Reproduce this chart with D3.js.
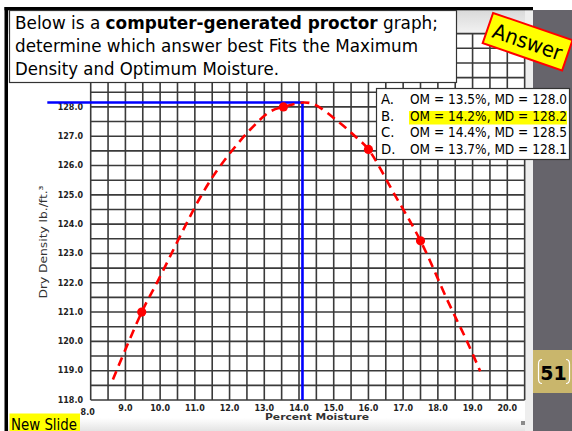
<!DOCTYPE html>
<html><head><meta charset="utf-8">
<script src="https://cdn.jsdelivr.net/npm/d3@7"></script>
<style>html,body{margin:0;padding:0;background:#fff;}svg{display:block;}</style>
</head><body>
<svg id="c" width="572" height="431"></svg>
<script>
// ---- data ----
const xTickValues = [8, 9, 10, 11, 12, 13, 14, 15, 16, 17, 18, 19, 20];
const xTickLabels = ["8.0","9.0","10.0","11.0","12.0","13.0","14.0","15.0","16.0","17.0","18.0","19.0","20.0"];
const yTickValues = [118, 119, 120, 121, 122, 123, 124, 125, 126, 127, 128];
const yTickLabels = ["118.0","119.0","120.0","121.0","122.0","123.0","124.0","125.0","126.0","127.0","128.0"];
const curveOM = [8.64, 9.47, 9.95, 11.15, 11.73, 12.59, 13.17, 13.55, 14.15, 14.45, 15.18, 15.67, 16.0, 16.72, 17.5, 18.3, 18.84, 19.22];
const curveMD = [118.7, 121.0, 122.1, 124.9, 125.98, 127.22, 127.84, 128.0, 128.15, 128.08, 127.45, 126.94, 126.55, 125.08, 123.43, 121.34, 120.0, 118.98];
const pointOM = [9.47, 13.55, 16.0, 17.5];
const pointMD = [121.0, 128.0, 126.55, 123.43];
const maxOM = 14.1, maxMD = 128.15, blueStartOM = 6.75;
const gridOMStart = 8, gridOMEnd = 20.5, gridMDStart = 118, gridMDEnd = 130.5, gridStep = 0.5;
const answerLetters = ["A.", "B.", "C.", "D."];
const answerTexts = ["OM = 13.5%, MD = 128.0", "OM = 14.2%, MD = 128.2", "OM = 14.4%, MD = 128.5", "OM = 13.7%, MD = 128.1"];
const correctIndex = 1;
const questionLines = [
  [["Below is a ", false], ["computer-generated proctor", true], [" graph;", false]],
  [["determine which answer best Fits the Maximum", false]],
  [["Density and Optimum Moisture.", false]]
];
const questionWidths = [423, 403, 264];
const slideNumber = "51";

// ---- drawing ----
const svg = d3.select("#c");
const F = "DejaVu Sans, Verdana, sans-serif";
const x = d3.scaleLinear().domain([8, 20]).range([90.7, 507.3]);
const y = d3.scaleLinear().domain([118, 128]).range([400, 106.9]);

svg.append("rect").attr("width", 572).attr("height", 431).attr("fill", "#fff");

const defs = svg.append("defs");
const g1 = defs.append("linearGradient").attr("id", "topg").attr("x1", 0).attr("y1", 0).attr("x2", 0).attr("y2", 1);
g1.append("stop").attr("offset", 0).attr("stop-color", "#d9d9d9");
g1.append("stop").attr("offset", 1).attr("stop-color", "#f3f3f3");
const g2 = defs.append("linearGradient").attr("id", "botg").attr("x1", 0).attr("y1", 0).attr("x2", 0).attr("y2", 1);
g2.append("stop").attr("offset", 0).attr("stop-color", "#ffffff");
g2.append("stop").attr("offset", 1).attr("stop-color", "#e4e4e4");

// chart background pieces
svg.append("rect").attr("x", 8).attr("y", 10).attr("width", 525).attr("height", 24).attr("fill", "url(#topg)");
svg.append("rect").attr("x", 525).attr("y", 10).attr("width", 8).attr("height", 421).attr("fill", "#eeeeee");
svg.append("rect").attr("x", 8).attr("y", 418).attr("width", 517).attr("height", 13).attr("fill", "url(#botg)");

// right dark panel
svg.append("rect").attr("x", 533).attr("y", 10).attr("width", 39).attr("height", 421).attr("fill", "#66646b");
svg.append("rect").attr("x", 533).attr("y", 350).attr("width", 39).attr("height", 43).attr("fill", "#c9b66c");

// frame
svg.append("rect").attr("x", 4.5).attr("y", 7).attr("width", 3.5).attr("height", 424).attr("fill", "#000");
svg.append("rect").attr("x", 4.5).attr("y", 7).attr("width", 528.5).attr("height", 3.3).attr("fill", "#000");

// grid
const vLines = d3.range(gridOMStart, gridOMEnd + 0.001, gridStep);
const hLines = d3.range(gridMDStart, gridMDEnd + 0.001, gridStep);
const grid = svg.append("g").attr("stroke", "#3a3a3a").attr("stroke-width", 1.6);
grid.selectAll("line.v").data(vLines).join("line").attr("class", "v")
  .attr("x1", d => x(d)).attr("x2", d => x(d)).attr("y1", y(gridMDEnd)).attr("y2", y(gridMDStart));
grid.selectAll("line.h").data(hLines).join("line").attr("class", "h")
  .attr("x1", x(gridOMStart)).attr("x2", x(gridOMEnd)).attr("y1", d => y(d)).attr("y2", d => y(d));

// tick labels
svg.append("g").selectAll("text").data(yTickValues).join("text")
  .attr("x", 83).attr("y", d => y(d)).attr("dy", "0.35em").attr("text-anchor", "end")
  .attr("font-family", F).attr("font-weight", "bold").attr("font-size", 8).attr("fill", "#222")
  .text((d, i) => yTickLabels[i]);
svg.append("g").selectAll("text").data(xTickValues).join("text")
  .attr("x", (d, i) => i === 0 ? x(d) - 3 : x(d)).attr("y", (d, i) => i === 0 ? 415 : 411)
  .attr("text-anchor", "middle")
  .attr("font-family", F).attr("font-weight", "bold").attr("font-size", 8).attr("fill", "#222")
  .text((d, i) => xTickLabels[i]);

// axis titles
svg.append("text").attr("x", 317).attr("y", 420).attr("text-anchor", "middle")
  .attr("font-family", F).attr("font-weight", "bold").attr("font-size", 9.5).attr("fill", "#333")
  .attr("textLength", 104).attr("lengthAdjust", "spacingAndGlyphs").text("Percent Moisture");
svg.append("text").attr("transform", "translate(47,242) rotate(-90)").attr("text-anchor", "middle")
  .attr("font-family", F).attr("font-size", 10).attr("fill", "#333")
  .attr("textLength", 113).attr("lengthAdjust", "spacingAndGlyphs").text("Dry Density lb./ft.³");

// blue max lines
svg.append("path").attr("fill", "none").attr("stroke", "#0000ff").attr("stroke-width", 2.6)
  .attr("d", `M${x(blueStartOM)},${y(maxMD)}H${x(maxOM)}V${y(gridMDStart)}`);

// curve
const pts = curveOM.map((d, i) => [d, curveMD[i]]);
svg.append("path").datum(pts).attr("fill", "none").attr("stroke", "#ff0000").attr("stroke-width", 2.6)
  .attr("stroke-dasharray", "9,6")
  .attr("d", d3.line().x(d => x(d[0])).y(d => y(d[1])).curve(d3.curveCatmullRom.alpha(0.5)));
svg.append("g").selectAll("circle").data(pointOM).join("circle")
  .attr("cx", d => x(d)).attr("cy", (d, i) => y(pointMD[i])).attr("r", 4.6).attr("fill", "#ff0000");

// question box
svg.append("rect").attr("x", 9.5).attr("y", 10.5).attr("width", 447).attr("height", 72)
  .attr("fill", "#fff").attr("stroke", "#333").attr("stroke-width", 1.2);
const baseY = [29, 52, 75];
questionLines.forEach((line, li) => {
  const t = svg.append("text").attr("x", 15).attr("y", baseY[li]).attr("font-family", F).attr("font-size", 17)
    .attr("fill", "#000").attr("textLength", questionWidths[li]).attr("lengthAdjust", "spacingAndGlyphs");
  line.forEach(([s, b]) => t.append("tspan").attr("font-weight", b ? "bold" : "normal").text(s));
});

// options box
svg.append("rect").attr("x", 376.5).attr("y", 88.5).attr("width", 193).attr("height", 71)
  .attr("fill", "#fff").attr("stroke", "#333").attr("stroke-width", 1.2);
const optY = [104, 120.5, 137, 153.5];
svg.append("rect").attr("x", 409).attr("y", 111).attr("width", 158).attr("height", 13.5).attr("fill", "#ffff00");
answerLetters.forEach((l, i) => {
  svg.append("text").attr("x", 381).attr("y", optY[i]).attr("font-family", F).attr("font-size", 13.3).attr("fill", "#000").text(l);
  svg.append("text").attr("x", 410).attr("y", optY[i]).attr("font-family", F).attr("font-size", 13.3).attr("fill", "#000")
    .attr("textLength", 157).attr("lengthAdjust", "spacingAndGlyphs").text(answerTexts[i]);
});

// Answer tag
const ag = svg.append("g").attr("transform", "translate(527.6,41.7) rotate(19)");
ag.append("rect").attr("x", -42).attr("y", -16).attr("width", 84).attr("height", 32)
  .attr("fill", "#ffff00").attr("stroke", "#ff0000").attr("stroke-width", 2);
ag.append("text").attr("x", 0).attr("y", 7.5).attr("text-anchor", "middle").attr("font-family", F)
  .attr("font-size", 21).attr("fill", "#000").attr("textLength", 72).attr("lengthAdjust", "spacingAndGlyphs").text("Answer");

// slide number
svg.append("path").attr("fill", "none").attr("stroke", "#fff").attr("stroke-width", 1.2)
  .attr("d", "M542,359.5 Q538.5,359.5 538.5,364 V379 Q538.5,383.5 542,383.5 M566,359.5 Q569.5,359.5 569.5,364 V379 Q569.5,383.5 566,383.5");
svg.append("text").attr("x", 553.5).attr("y", 380).attr("text-anchor", "middle").attr("font-family", F)
  .attr("font-weight", "bold").attr("font-size", 19).attr("fill", "#000").text(slideNumber);

// small handle
svg.append("rect").attr("x", 521).attr("y", 421).attr("width", 4).attr("height", 4).attr("fill", "#8a8a8a");

// New Slide label
svg.append("rect").attr("x", 9.5).attr("y", 413.5).attr("width", 70.5).attr("height", 17.5).attr("fill", "#ffff00");
svg.append("text").attr("x", 11).attr("y", 429.5).attr("font-family", F).attr("font-size", 16.5).attr("fill", "#000")
  .attr("textLength", 66).attr("lengthAdjust", "spacingAndGlyphs").text("New Slide");
</script>
</body></html>
